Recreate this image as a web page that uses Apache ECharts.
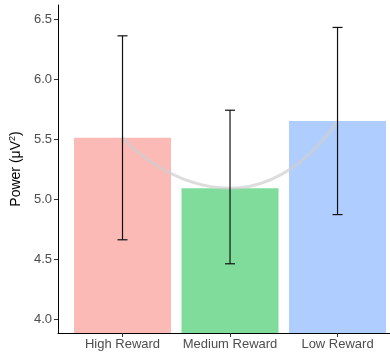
<!DOCTYPE html>
<html>
<head>
<meta charset="utf-8">
<script src="https://cdn.jsdelivr.net/npm/echarts@6/dist/echarts.min.js"></script>
<style>
  html, body { margin: 0; padding: 0; background: #fff; }
  #chart { width: 390px; height: 355px; }
</style>
</head>
<body>
<div id="chart"></div>
<script>
// categories and values
var categories = ['High Reward', 'Medium Reward', 'Low Reward'];
var means = [5.51, 5.09, 5.65];
var errLow = [4.66, 4.46, 4.87];
var errHigh = [6.36, 5.74, 6.43];
var barColors = ['#FBBAB6', '#80DC9B', '#B0CDFF'];
var yTicks = [4.0, 4.5, 5.0, 5.5, 6.0, 6.5];
var xTicks = [0, 1, 2];

var chart = echarts.init(document.getElementById('chart'));

var barData = [], lineData = [], errData = [];
for (var i = 0; i < categories.length; i++) {
  barData.push({ value: [i, means[i]], itemStyle: { color: barColors[i] } });
  lineData.push([i, means[i]]);
  errData.push([i, errLow[i], errHigh[i]]);
}

var option = {
  animation: false,
  textStyle: { fontFamily: 'Liberation Sans, Arial, sans-serif' },
  grid: { left: 58, right: 0, top: 5, bottom: 22, outerBoundsMode: 'none', containLabel: false },
  // ggplot-like discrete scale: categories at 0,1,2 with 0.6 padding on the left
  xAxis: {
    type: 'value',
    min: -0.6,
    max: 2.488,
    splitLine: { show: false },
    axisLine: { show: true, onZero: false, lineStyle: { color: '#000', width: 1 } },
    axisTick: { show: true, length: 4, customValues: xTicks, lineStyle: { color: '#333' } },
    axisLabel: {
      color: '#4d4d4d', fontSize: 13, margin: 5,
      customValues: xTicks,
      formatter: function (v) { return categories[v]; }
    }
  },
  yAxis: {
    type: 'value',
    min: 3.883,
    max: 6.617,
    name: 'Power (μV{sup|2})',
    nameLocation: 'middle',
    nameGap: 31,
    nameRotate: 90,
    nameTextStyle: {
      color: '#000',
      fontSize: 14,
      rich: { sup: { fontSize: 9, verticalAlign: 'top', padding: [0, 0, 8, 0], color: '#000' } }
    },
    splitLine: { show: false },
    axisLine: { show: true, onZero: false, lineStyle: { color: '#000', width: 1 } },
    axisTick: { show: true, length: 4, customValues: yTicks, lineStyle: { color: '#333' } },
    axisLabel: {
      color: '#4d4d4d', fontSize: 13, margin: 6,
      customValues: yTicks,
      formatter: function (v) { return v.toFixed(1); }
    }
  },
  series: [
    {
      type: 'bar',
      data: barData,
      barWidth: 97,
      z: 1
    },
    {
      type: 'line',
      data: lineData,
      smooth: 0.6,
      symbol: 'none',
      lineStyle: { color: '#cfcfcf', width: 3, opacity: 0.7 },
      z: 2
    },
    {
      type: 'custom',
      data: errData,
      z: 3,
      renderItem: function (params, api) {
        var x = api.value(0);
        var lo = api.coord([x, api.value(1)]);
        var hi = api.coord([x, api.value(2)]);
        var cap = 5;
        var style = { stroke: '#111', lineWidth: 1.2 };
        return {
          type: 'group',
          children: [
            { type: 'line', shape: { x1: lo[0], y1: lo[1], x2: hi[0], y2: hi[1] }, style: style },
            { type: 'line', shape: { x1: hi[0] - cap, y1: hi[1], x2: hi[0] + cap, y2: hi[1] }, style: style },
            { type: 'line', shape: { x1: lo[0] - cap, y1: lo[1], x2: lo[0] + cap, y2: lo[1] }, style: style }
          ]
        };
      }
    }
  ]
};

chart.setOption(option);
</script>
</body>
</html>
